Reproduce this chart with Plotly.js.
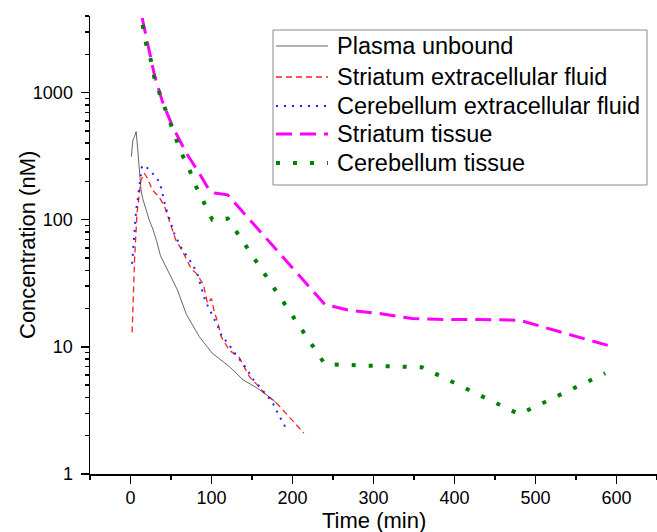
<!DOCTYPE html>
<html>
<head>
<meta charset="utf-8">
<script src="https://cdn.plot.ly/plotly-3.0.1.min.js"></script>
<style>html,body{margin:0;padding:0;background:#fff;}#chart{width:657px;height:532px;}</style>
</head>
<body>
<div id="chart"></div>
<script>
// Plasma unbound
const plasmaT = [1, 3, 5, 7, 9, 11, 13, 15, 19, 23, 28, 32, 37, 48, 58, 69, 85, 101, 122, 139, 155, 175, 180];
const plasmaC = [313, 424, 451, 493, 354, 232, 171, 147, 119, 100, 83, 69, 52, 38, 28, 18, 12, 8.9, 7, 5.5, 4.8, 3.9, 3.6];
// Striatum extracellular fluid
const strEcfT = [2, 5, 8, 11, 13, 17, 21, 27, 35, 42, 56, 64, 75, 81, 90, 95, 100, 103, 108, 112, 122, 134, 147, 159, 167, 179, 192, 214];
const strEcfC = [13, 48, 112, 161, 205, 232, 212, 171, 152, 127, 69, 57, 41, 38, 31, 22, 24, 19.4, 15.3, 12, 9.4, 8.3, 5.8, 4.84, 4.17, 3.69, 2.99, 2.1];
// Cerebellum extracellular fluid
const cerEcfT = [2, 5, 7, 9, 11, 14, 17, 25, 33, 38, 43, 54, 62, 73, 77, 83, 92, 98, 108, 114, 120, 126, 140, 152, 161, 175, 181, 192];
const cerEcfC = [45, 78, 120, 145, 190, 259, 270, 239, 212, 177, 127, 78, 61, 48, 44, 36.7, 23.3, 19.4, 14.4, 11.6, 10.9, 9.4, 7.2, 5.5, 4.7, 3.69, 3.08, 2.28];
// Striatum tissue
const strTisT = [14.4, 21, 30, 40, 52, 69, 85, 97, 104, 120, 240, 270, 307, 348, 390, 430, 480, 593];
const strTisC = [3855, 2450, 1337, 826, 540, 333, 232, 171, 162, 157, 21.5, 19.4, 18.3, 16.7, 16.4, 16.4, 16.2, 10.1];
// Cerebellum tissue
const cerTisT = [15, 19, 25.5, 30, 38, 46, 54, 62, 72, 81, 91, 101, 120, 240, 360, 480, 586];
const cerTisC = [3400, 2450, 1755, 1259, 903, 647, 479, 343, 254, 182, 135, 100, 102, 7.3, 6.9, 2.95, 6.2];

const names = ["Plasma unbound", "Striatum extracellular fluid", "Cerebellum extracellular fluid", "Striatum tissue", "Cerebellum tissue"];
const xTickVals = [0, 100, 200, 300, 400, 500, 600];
const yTickVals = [1, 10, 100, 1000];
const yTickText = ["1", "10", "100", "1000"];
const xTitle = "Time (min)";
const yTitle = "Concentration (nM)";

const FONT = "Arial, 'Liberation Sans', sans-serif";
const W = 657, H = 532;
const M = {l: 90, r: 0, t: 16, b: 58};
const PW = W - M.l - M.r, PH = H - M.t - M.b;
const px = v => (v - M.l) / PW;       // pixel -> paper x
const py = v => 1 - (v - M.t) / PH;   // pixel -> paper y

const styles = [
  {color: "#666666", width: 1, dash: "solid"},
  {color: "#ff2020", width: 1.3, dash: "6px,4px"},
  {color: "#2020ff", width: 2, dash: "2px,6px"},
  {color: "#ff00ff", width: 3, dash: "16px,8px"},
  {color: "#008000", width: 4, dash: "4px,13px"}
];
const xs = [plasmaT, strEcfT, cerEcfT, strTisT, cerTisT];
const ys = [plasmaC, strEcfC, cerEcfC, strTisC, cerTisC];

const traces = names.map((n, i) => ({
  x: xs[i], y: ys[i], name: n, mode: "lines", line: styles[i], showlegend: false
}));

// Manual legend (box, line samples, labels)
const legendRows = [46, 77, 106, 134, 163];
const shapes = [{
  type: "rect", xref: "paper", yref: "paper",
  x0: px(273), x1: px(647), y0: py(30), y1: py(185),
  line: {color: "#888", width: 1}, fillcolor: "#fff", layer: "above"
}];
const annotations = [];
names.forEach((n, i) => {
  shapes.push({
    type: "line", xref: "paper", yref: "paper",
    x0: px(276), x1: px(328), y0: py(legendRows[i]), y1: py(legendRows[i]),
    line: styles[i], layer: "above"
  });
  annotations.push({
    xref: "paper", yref: "paper", x: px(335), y: py(legendRows[i]),
    xanchor: "left", yanchor: "middle", showarrow: false, text: n,
    font: {family: FONT, size: 23.5, color: "#000"}
  });
});
annotations.push({
  xref: "paper", yref: "paper", x: px(27), y: 0.5, xanchor: "center", yanchor: "middle",
  showarrow: false, textangle: -90, text: yTitle,
  font: {family: FONT, size: 22, color: "#000"}
});
annotations.push({
  xref: "paper", yref: "paper", x: 0.5, y: py(534), xanchor: "center", yanchor: "bottom",
  showarrow: false, text: xTitle, borderpad: 0,
  font: {family: FONT, size: 22, color: "#000"}
});

const layout = {
  width: W, height: H, margin: M,
  paper_bgcolor: "#fff", plot_bgcolor: "#fff",
  font: {family: FONT, color: "#000", size: 18},
  showlegend: false,
  shapes: shapes, annotations: annotations,
  xaxis: {
    range: [-50, 650], showgrid: false, zeroline: false,
    showline: true, linecolor: "#000", linewidth: 1.5,
    ticks: "outside", ticklen: 8, tickwidth: 1.5, tickcolor: "#000",
    tickvals: xTickVals, ticklabelstandoff: -1,
    minor: {ticks: "outside", ticklen: 4, tickwidth: 1.5, tickcolor: "#000", dtick: 50, tick0: 0},
    tickfont: {family: FONT, size: 18}
  },
  yaxis: {
    type: "log", range: [0, Math.log10(4000)], showgrid: false, zeroline: false,
    showline: true, linecolor: "#000", linewidth: 1.5,
    ticks: "outside", ticklen: 8, tickwidth: 1.5, tickcolor: "#000",
    tickvals: yTickVals, ticktext: yTickText, ticklabelstandoff: 4,
    minor: {ticks: "outside", ticklen: 4, tickwidth: 1.5, tickcolor: "#000", dtick: "D1"},
    tickfont: {family: FONT, size: 18}
  }
};

Plotly.newPlot("chart", traces, layout, {staticPlot: true, displayModeBar: false});
</script>
</body>
</html>
